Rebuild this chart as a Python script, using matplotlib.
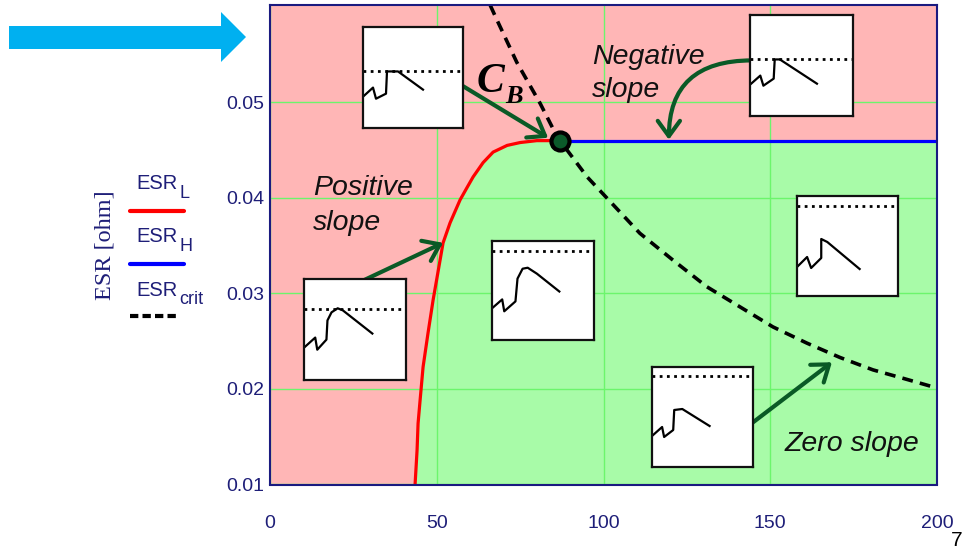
"""ESR vs capacitance stability map: ESR_L, ESR_H and ESR_crit boundaries
with the pink (unstable) / green (stable) regions and step-response insets."""
import matplotlib
matplotlib.use("Agg")
import matplotlib.pyplot as plt
import numpy as np
from matplotlib.lines import Line2D
from matplotlib.patches import Polygon

# --- data --------------------------------------------------------------
C_L = [43.5, 44.1, 44.4, 45.0, 45.9, 47.4, 48.9, 50.1, 51.9, 54.0, 57.0,
       59.1, 60.9, 63.9, 66.9, 71.1, 75.0, 80.0, 87.0]
ESR_L = [0.0100, 0.0136, 0.0164, 0.0188, 0.0223, 0.0259, 0.0293, 0.0317,
         0.0353, 0.0374, 0.0398, 0.0411, 0.0422, 0.0437, 0.0448, 0.0455,
         0.0458, 0.0460, 0.0460]

C_H = [87.0, 200.0]
ESR_H = [0.0460, 0.0460]

C_CRIT = [66.0, 68.1, 74.0, 81.0, 86.1, 95.1, 110.9, 120.8, 131.0, 140.9,
          150.8, 161.0, 170.9, 180.8, 190.0, 200.0]
ESR_CRIT = [0.0602, 0.0586, 0.0542, 0.0499, 0.0464, 0.0422, 0.0363, 0.0335,
            0.0307, 0.0286, 0.0265, 0.0248, 0.0233, 0.0220, 0.0211, 0.0201]

C_B, ESR_B = 87.0, 0.0460

X_TICKS = [0, 50, 100, 150, 200]
Y_TICKS = [0.01, 0.02, 0.03, 0.04, 0.05]

# step-response thumbnails: dotted level + waveform (normalised 0..1)
INSET_LEVEL = [0.56, 0.56, 0.70, 0.90, 0.90, 0.91]
INSET_X = [
    [0, 0.10, 0.13, 0.23, 0.24, 0.35, 0.60],
    [0, 0.10, 0.13, 0.23, 0.24, 0.29, 0.65],
    [0, 0.11, 0.13, 0.22, 0.23, 0.27, 0.33, 0.38, 0.67],
    [0, 0.10, 0.12, 0.23, 0.25, 0.30, 0.35, 0.44, 0.66],
    [0, 0.10, 0.14, 0.24, 0.24, 0.30, 0.62],
    [0, 0.10, 0.12, 0.21, 0.22, 0.30, 0.57],
]
INSET_Y = [
    [0.31, 0.40, 0.29, 0.34, 0.56, 0.56, 0.38],
    [0.31, 0.40, 0.30, 0.37, 0.56, 0.56, 0.32],
    [0.32, 0.42, 0.30, 0.40, 0.59, 0.67, 0.71, 0.69, 0.46],
    [0.32, 0.41, 0.29, 0.39, 0.62, 0.72, 0.73, 0.67, 0.49],
    [0.29, 0.39, 0.28, 0.38, 0.57, 0.54, 0.27],
    [0.31, 0.40, 0.30, 0.37, 0.57, 0.58, 0.41],
]
# box placement in pixels (left, top, width, height)
INSET_BOX = [(363, 27, 100, 101), (750, 15, 103, 101), (304, 279, 102, 101),
             (492, 241, 102, 99), (797, 196, 101, 100), (652, 367, 101, 100)]

PINK = "#FFB6B6"
GREEN = "#A8FBA8"
GRID = "#6CF56C"
NAVY = "#1E1E78"
ARROW = "#0A5A26"

W, H = 971, 552
plt.rcParams["font.family"] = ["Liberation Sans", "DejaVu Sans"]


def fx(px):
    return px / W


def fy(py):
    return 1 - py / H


fig = plt.figure(figsize=(W / 100, H / 100), dpi=100)
ax = fig.add_axes([fx(270), fy(484.5), (937 - 270) / W, (484.5 - 5) / H])
ax.set_facecolor(PINK)

# stable region below ESR_L / ESR_H
cx = np.concatenate([C_L, C_H[1:]])
cy = np.concatenate([ESR_L, ESR_H[1:]])
ax.fill_between(cx, 0.01, cy, color=GREEN, lw=0, zorder=1)

ax.plot(C_L, ESR_L, color="#FF0000", lw=2.3, zorder=3)
ax.plot(C_H, ESR_H, color="#0000FF", lw=2.3, zorder=3)
ax.plot(C_CRIT, ESR_CRIT, color="black", lw=2.6, ls=(0, (3, 2)), zorder=4)
ax.plot([C_B], [ESR_B], "o", ms=13, mfc="#0B5A2A", mec="black", mew=3,
        zorder=6)

ax.set_xlim(0, 200)
ax.set_ylim(0.01, 0.0602)
ax.set_xticks(X_TICKS)
ax.set_xticklabels([str(t) for t in X_TICKS])
ax.set_yticks(Y_TICKS)
ax.set_yticklabels([f"{t:.2f}" for t in Y_TICKS])
ax.tick_params(length=0, labelsize=14, colors=NAVY)
ax.tick_params(axis="x", pad=22)
ax.tick_params(axis="y", pad=4)
ax.set_axisbelow("line")
ax.grid(True, color=GRID, lw=1)
for s in ax.spines.values():
    s.set_color("#1A1A80")
    s.set_linewidth(1.5)
    s.set_zorder(7)

# green arrows
akw = dict(arrowstyle="->,head_length=0.55,head_width=0.4", color=ARROW,
           lw=3, mutation_scale=20, shrinkA=0, shrinkB=0)
ax.annotate("", xy=(83.4, 0.0463), xytext=(57.9, 0.0517),
            arrowprops=akw, zorder=5)
ax.annotate("", xy=(51.9, 0.0353), xytext=(27.0, 0.0312),
            arrowprops=akw, zorder=5)
ax.annotate("", xy=(168.5, 0.0228), xytext=(144.8, 0.0165),
            arrowprops=akw, zorder=5)
ax.annotate("", xy=(119.6, 0.0461), xytext=(144.5, 0.0544),
            arrowprops=dict(akw, connectionstyle="angle3,angleA=0,angleB=90"),
            zorder=5)

# thumbnails
for (l, t, w, h), lev, xs, ys in zip(INSET_BOX, INSET_LEVEL, INSET_X, INSET_Y):
    ia = fig.add_axes([fx(l), fy(t + h), w / W, h / H])
    ia.set_xlim(0, 1)
    ia.set_ylim(0, 1)
    ia.set_xticks([])
    ia.set_yticks([])
    ia.axhline(lev, color="black", lw=2, ls=(0, (1, 1.6)))
    ia.plot(xs, ys, color="black", lw=1.6)
    for s in ia.spines.values():
        s.set_linewidth(1.6)
        s.set_color("#111111")

# region labels
tkw = dict(fontsize=20.5, style="italic", color="#111111", va="baseline")
fig.text(fx(313), fy(195), "Positive", **tkw)
fig.text(fx(313), fy(230), "slope", **tkw)
fig.text(fx(592), fy(64), "Negative", **tkw)
fig.text(fx(592), fy(97), "slope", **tkw)
fig.text(fx(785), fy(451), "Zero slope", **tkw)

serif = ["Liberation Serif", "DejaVu Serif"]
fig.text(fx(477), fy(92), "C", family=serif, fontsize=30, weight="bold",
         style="italic", va="baseline")
fig.text(fx(505), fy(103), "B", family=serif, fontsize=19, weight="bold",
         style="italic", va="baseline")

# y label and hand-made legend
fig.text(fx(105), fy(245), "ESR [ohm]", family=serif, fontsize=17.5,
         color=NAVY, rotation=90, ha="center", va="center")
lkw = dict(fontsize=14.5, color=NAVY, va="baseline")
skw = dict(fontsize=13, color=NAVY, va="baseline")
fig.text(fx(136), fy(189), "ESR", **lkw)
fig.text(fx(179), fy(198), "L", **skw)
fig.text(fx(136), fy(242), "ESR", **lkw)
fig.text(fx(179), fy(251), "H", **skw)
fig.text(fx(136), fy(296), "ESR", **lkw)
fig.text(fx(179), fy(304), "crit", **skw)
fig.add_artist(Line2D([fx(130), fx(184)], [fy(211), fy(211)],
                      color="#FF0000", lw=3, solid_capstyle="round"))
fig.add_artist(Line2D([fx(130), fx(184)], [fy(264), fy(264)],
                      color="#0000FF", lw=3, solid_capstyle="round"))
fig.add_artist(Line2D([fx(130), fx(178)], [fy(316), fy(316)],
                      color="black", lw=3, ls=(0, (2, 1))))

# blue pointer arrow at top-left
arrow_px = [(9, 26), (221, 26), (221, 12), (246, 37), (221, 62), (221, 49),
            (9, 49)]
fig.add_artist(Polygon([(fx(x), fy(y)) for x, y in arrow_px], closed=True,
                       transform=fig.transFigure, color="#00B0F0", lw=0))

fig.text(fx(957), fy(546), "7", fontsize=15, ha="center", va="baseline")

fig.savefig("out.png", dpi=100)
